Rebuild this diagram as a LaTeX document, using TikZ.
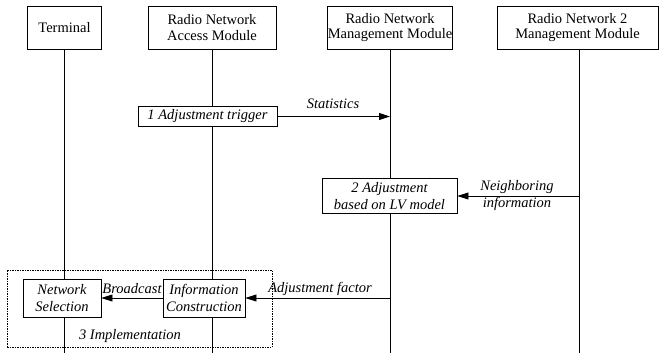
\documentclass[tikz,border=0pt]{standalone}
\usepackage{fontspec}
\setmainfont{Liberation Serif}
\usetikzlibrary{arrows.meta}
\begin{document}
\begin{tikzpicture}[x=1pt,y=-1pt,
  font=\fontsize{14.5}{15.5}\selectfont,
  hdr/.style={draw, fill=white, line width=0.8pt, minimum height=43pt, inner sep=0pt, align=center},
  actbox/.style={draw, fill=white, line width=0.8pt, inner sep=0pt, align=center,
    font=\fontsize{14.5}{17}\selectfont\itshape},
  life/.style={line width=0.8pt},
  msg/.style={line width=0.8pt, -{Triangle[length=11pt,width=7pt]}},
  lbl/.style={font=\fontsize{14.5}{17}\selectfont\itshape, align=center, inner sep=0pt}]
\useasboundingbox (0,0) rectangle (659,353);
% headers
\node[hdr, minimum width=74pt] (term) at (64.5,27.5) {Terminal};
\node[hdr, minimum width=128pt] (acc) at (212,27.5) {Radio Network\\Access Module};
\node[hdr, minimum width=122pt] (mg) at (390,27.5) {Radio Network\\Management Module};
\node[hdr, minimum width=161pt] (mg2) at (577.5,27.5) {Radio Network 2\\Management Module};
% lifeline ends
\coordinate (termb) at (64,353);
\coordinate (accb) at (212,353);
\coordinate (mgb) at (390,353);
\coordinate (mg2b) at (579,353);
\draw[life] (term.south -| termb) -- (termb);
\draw[life] (acc.south -| accb) -- (accb);
\draw[life] (mg.south -| mgb) -- (mgb);
\draw[life] (mg2.south -| mg2b) -- (mg2b);
% implementation frame
\node[draw, dash pattern=on 1.5pt off 1pt, line width=0.6pt, minimum width=265pt, minimum height=77pt, inner sep=0pt] (impl) at (139.5,308.5) {};
% step 1
\node[actbox, minimum width=139pt, minimum height=20pt] (trig) at (207.5,116.5) {1 Adjustment trigger};
\draw[msg] (trig.east) -- (trig.east -| mgb);
\node[lbl] (stat) at (333,104) {Statistics};
% step 2
\node[actbox, minimum width=135pt, minimum height=35pt] (lv) at (389.5,196) {2 Adjustment\\based on LV model};
\draw[msg] (lv.east -| mg2b) -- (lv.east);
\node[lbl] (nbr) at (517,196) {Neighboring\\information};
% step 3
\node[actbox, minimum width=78pt, minimum height=38pt] (nsel) at (62,298) {Network\\Selection};
\node[actbox, minimum width=82pt, minimum height=38pt] (info) at (204,298) {Information\\Construction};
\draw[msg] (info.east -| mgb) -- (info.east);
\draw[msg] (info.west) -- (nsel.east);
\node[lbl] (bc) at (132,289) {Broadcast};
\node[lbl] (adjf) at (320,289) {Adjustment factor};
\node[lbl] (implt) at (130,336) {3 Implementation};
\end{tikzpicture}
\end{document}
